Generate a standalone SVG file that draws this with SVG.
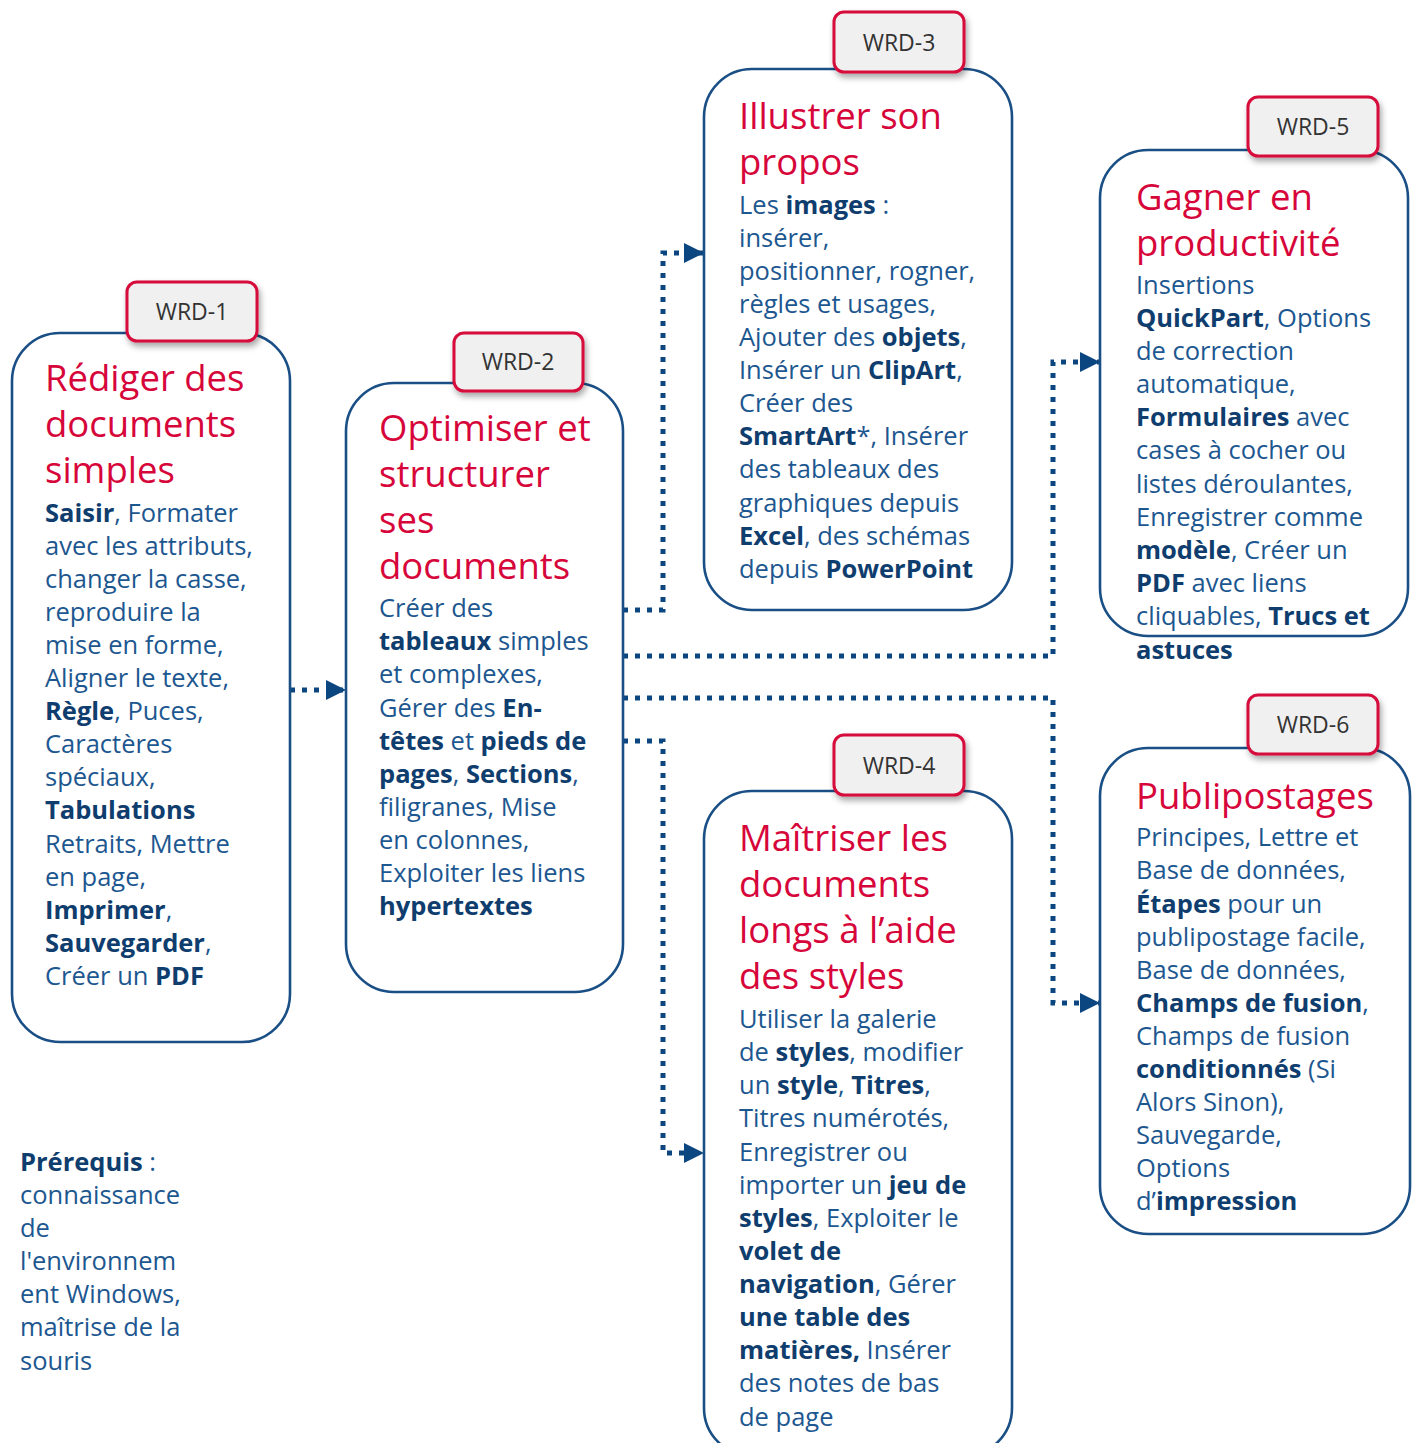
<svg xmlns="http://www.w3.org/2000/svg" width="1418" height="1443" viewBox="0 0 1418 1443">
<style>
.box{fill:#fff;stroke:#1a4f86;stroke-width:2.6}
.tag{fill:#f0f0f0;stroke:#d6083b;stroke-width:3}
.tagt{font-family:"Open Sans","Noto Sans",sans-serif;font-size:23px;fill:#333;text-anchor:middle}
.t{font-family:"Open Sans","Noto Sans",sans-serif;font-size:36.5px;fill:#d7063a}
.b{font-family:"Open Sans","Noto Sans",sans-serif;font-size:25.5px;fill:#1d5790}
.k{font-weight:bold;fill:#0e3d6e}
.con{fill:none;stroke:#0c4680;stroke-width:5;stroke-dasharray:5 7}
</style>
<defs>
<filter id="sh" x="-20%" y="-20%" width="150%" height="160%">
<feDropShadow dx="2" dy="4" stdDeviation="3" flood-color="#000" flood-opacity="0.35"/>
</filter>
<marker id="arr" markerUnits="userSpaceOnUse" markerWidth="20" markerHeight="20" viewBox="0 0 20 20" refX="20" refY="10" orient="auto">
<path d="M0,0 L20,10 L0,20 Z" fill="#0c4680"/>
</marker>
</defs>

<g id="connectors">
<path class="con" d="M290,690 L346,690" marker-end="url(#arr)"/>
<path class="con" d="M623,610 L663,610 L663,253 L704,253" marker-end="url(#arr)"/>
<path class="con" d="M623,656 L1053,656 L1053,362 L1100,362" marker-end="url(#arr)"/>
<path class="con" d="M623,698 L1053,698 L1053,1003 L1100,1003" marker-end="url(#arr)"/>
<path class="con" d="M623,741 L663,741 L663,1153 L704,1153" marker-end="url(#arr)"/>
</g>

<g id="wrd1">
<rect class="box" x="12" y="333" width="278" height="709" rx="48"/>
<rect class="tag" x="127" y="282" width="130" height="59" rx="10" filter="url(#sh)"/>
<text class="tagt" x="192" y="320">WRD-1</text>
<text class="t" x="45" y="391">Rédiger des</text>
<text class="t" x="45" y="437">documents</text>
<text class="t" x="45" y="483">simples</text>
<text class="b" x="45" y="522"><tspan class="k">Saisir</tspan>, Formater</text>
<text class="b" x="45" y="555">avec les attributs,</text>
<text class="b" x="45" y="588">changer la casse,</text>
<text class="b" x="45" y="621">reproduire la</text>
<text class="b" x="45" y="654">mise en forme,</text>
<text class="b" x="45" y="687">Aligner le texte,</text>
<text class="b" x="45" y="720"><tspan class="k">Règle</tspan>, Puces,</text>
<text class="b" x="45" y="753">Caractères</text>
<text class="b" x="45" y="786">spéciaux,</text>
<text class="b" x="45" y="819"><tspan class="k">Tabulations</tspan></text>
<text class="b" x="45" y="853">Retraits, Mettre</text>
<text class="b" x="45" y="886">en page,</text>
<text class="b" x="45" y="919"><tspan class="k">Imprimer</tspan>,</text>
<text class="b" x="45" y="952"><tspan class="k">Sauvegarder</tspan>,</text>
<text class="b" x="45" y="985">Créer un <tspan class="k">PDF</tspan></text>
</g>

<g id="wrd2">
<rect class="box" x="346" y="383" width="277" height="609" rx="48"/>
<rect class="tag" x="454" y="333" width="129" height="58" rx="10" filter="url(#sh)"/>
<text class="tagt" x="518" y="370">WRD-2</text>
<text class="t" x="379" y="441">Optimiser et</text>
<text class="t" x="379" y="487">structurer</text>
<text class="t" x="379" y="533">ses</text>
<text class="t" x="379" y="579">documents</text>
<text class="b" x="379" y="617">Créer des</text>
<text class="b" x="379" y="650"><tspan class="k">tableaux</tspan> simples</text>
<text class="b" x="379" y="683">et complexes,</text>
<text class="b" x="379" y="717">Gérer des <tspan class="k">En-</tspan></text>
<text class="b" x="379" y="750"><tspan class="k">têtes</tspan> et <tspan class="k">pieds de</tspan></text>
<text class="b" x="379" y="783"><tspan class="k">pages</tspan>, <tspan class="k">Sections</tspan>,</text>
<text class="b" x="379" y="816">filigranes, Mise</text>
<text class="b" x="379" y="849">en colonnes,</text>
<text class="b" x="379" y="882">Exploiter les liens</text>
<text class="b" x="379" y="915"><tspan class="k">hypertextes</tspan></text>
</g>

<g id="wrd3">
<rect class="box" x="704" y="69" width="308" height="541" rx="48"/>
<rect class="tag" x="834" y="12" width="130" height="60" rx="10" filter="url(#sh)"/>
<text class="tagt" x="899" y="51">WRD-3</text>
<text class="t" x="739" y="129">Illustrer son</text>
<text class="t" x="739" y="175">propos</text>
<text class="b" x="739" y="214">Les <tspan class="k">images</tspan> :</text>
<text class="b" x="739" y="247">insérer,</text>
<text class="b" x="739" y="280">positionner, rogner,</text>
<text class="b" x="739" y="313">règles et usages,</text>
<text class="b" x="739" y="346">Ajouter des <tspan class="k">objets</tspan>,</text>
<text class="b" x="739" y="379">Insérer un <tspan class="k">ClipArt</tspan>,</text>
<text class="b" x="739" y="412">Créer des</text>
<text class="b" x="739" y="445"><tspan class="k">SmartArt</tspan>*, Insérer</text>
<text class="b" x="739" y="478">des tableaux des</text>
<text class="b" x="739" y="512">graphiques depuis</text>
<text class="b" x="739" y="545"><tspan class="k">Excel</tspan>, des schémas</text>
<text class="b" x="739" y="578">depuis <tspan class="k">PowerPoint</tspan></text>
</g>

<g id="wrd4">
<rect class="box" x="704" y="791" width="308" height="665" rx="48"/>
<rect class="tag" x="834" y="735" width="130" height="60" rx="10" filter="url(#sh)"/>
<text class="tagt" x="899" y="774">WRD-4</text>
<text class="t" x="739" y="851">Maîtriser les</text>
<text class="t" x="739" y="897">documents</text>
<text class="t" x="739" y="943">longs à l’aide</text>
<text class="t" x="739" y="989">des styles</text>
<text class="b" x="739" y="1028">Utiliser la galerie</text>
<text class="b" x="739" y="1061">de <tspan class="k">styles</tspan>, modifier</text>
<text class="b" x="739" y="1094">un <tspan class="k">style</tspan>, <tspan class="k">Titres</tspan>,</text>
<text class="b" x="739" y="1127">Titres numérotés,</text>
<text class="b" x="739" y="1161">Enregistrer ou</text>
<text class="b" x="739" y="1194">importer un <tspan class="k">jeu de</tspan></text>
<text class="b" x="739" y="1227"><tspan class="k">styles</tspan>, Exploiter le</text>
<text class="b" x="739" y="1260"><tspan class="k">volet de</tspan></text>
<text class="b" x="739" y="1293"><tspan class="k">navigation</tspan>, Gérer</text>
<text class="b" x="739" y="1326"><tspan class="k">une table des</tspan></text>
<text class="b" x="739" y="1359"><tspan class="k">matières,</tspan> Insérer</text>
<text class="b" x="739" y="1392">des notes de bas</text>
<text class="b" x="739" y="1426">de page</text>
</g>

<g id="wrd5">
<rect class="box" x="1100" y="150" width="308" height="486" rx="48"/>
<rect class="tag" x="1248" y="97" width="130" height="59" rx="10" filter="url(#sh)"/>
<text class="tagt" x="1313" y="135">WRD-5</text>
<text class="t" x="1136" y="210">Gagner en</text>
<text class="t" x="1136" y="256">productivité</text>
<text class="b" x="1136" y="294">Insertions</text>
<text class="b" x="1136" y="327"><tspan class="k">QuickPart</tspan>, Options</text>
<text class="b" x="1136" y="360">de correction</text>
<text class="b" x="1136" y="393">automatique,</text>
<text class="b" x="1136" y="426"><tspan class="k">Formulaires</tspan> avec</text>
<text class="b" x="1136" y="459">cases à cocher ou</text>
<text class="b" x="1136" y="493">listes déroulantes,</text>
<text class="b" x="1136" y="526">Enregistrer comme</text>
<text class="b" x="1136" y="559"><tspan class="k">modèle</tspan>, Créer un</text>
<text class="b" x="1136" y="592"><tspan class="k">PDF</tspan> avec liens</text>
<text class="b" x="1136" y="625">cliquables, <tspan class="k">Trucs et</tspan></text>
<text class="b" x="1136" y="659"><tspan class="k">astuces</tspan></text>
</g>

<g id="wrd6">
<rect class="box" x="1100" y="748" width="310" height="486" rx="48"/>
<rect class="tag" x="1248" y="695" width="130" height="59" rx="10" filter="url(#sh)"/>
<text class="tagt" x="1313" y="733">WRD-6</text>
<text class="t" x="1136" y="809">Publipostages</text>
<text class="b" x="1136" y="846">Principes, Lettre et</text>
<text class="b" x="1136" y="879">Base de données,</text>
<text class="b" x="1136" y="913"><tspan class="k">Étapes</tspan> pour un</text>
<text class="b" x="1136" y="946">publipostage facile,</text>
<text class="b" x="1136" y="979">Base de données,</text>
<text class="b" x="1136" y="1012"><tspan class="k">Champs de fusion</tspan>,</text>
<text class="b" x="1136" y="1045">Champs de fusion</text>
<text class="b" x="1136" y="1078"><tspan class="k">conditionnés</tspan> (Si</text>
<text class="b" x="1136" y="1111">Alors Sinon),</text>
<text class="b" x="1136" y="1144">Sauvegarde,</text>
<text class="b" x="1136" y="1177">Options</text>
<text class="b" x="1136" y="1210">d’<tspan class="k">impression</tspan></text>
</g>

<g id="prerequis">
<text class="b" x="20" y="1171"><tspan class="k">Prérequis</tspan> :</text>
<text class="b" x="20" y="1204">connaissance</text>
<text class="b" x="20" y="1237">de</text>
<text class="b" x="20" y="1270">l'environnem</text>
<text class="b" x="20" y="1303">ent Windows,</text>
<text class="b" x="20" y="1336">maîtrise de la</text>
<text class="b" x="20" y="1370">souris</text>
</g>
</svg>
